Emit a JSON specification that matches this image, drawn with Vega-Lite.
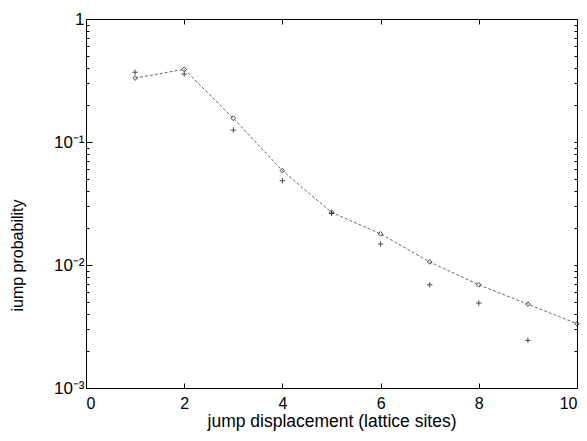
{
  "$schema": "https://vega.github.io/schema/vega-lite/v6.json",
  "autosize": "none",
  "width": 491,
  "height": 369,
  "padding": {"left": 86, "top": 19, "right": 10, "bottom": 53},
  "background": "white",
  "config": {
    "view": {"stroke": "black", "strokeWidth": 1},
    "font": "Liberation Sans",
    "axis": {"domainColor": "black", "tickColor": "black", "labelColor": "black", "titleColor": "black", "grid": false, "labelFont": "Liberation Sans", "titleFont": "Liberation Sans", "titleFontWeight": "normal"}
  },
  "datasets": {
    "model": [
      {"d": 1, "p": 0.331}, {"d": 2, "p": 0.39}, {"d": 3, "p": 0.156}, {"d": 4, "p": 0.0585},
      {"d": 5, "p": 0.0268}, {"d": 6, "p": 0.0179}, {"d": 7, "p": 0.0106}, {"d": 8, "p": 0.0069},
      {"d": 9, "p": 0.0048}, {"d": 10, "p": 0.00333}
    ],
    "sim": [
      {"d": 1, "p": 0.369}, {"d": 2, "p": 0.357}, {"d": 3, "p": 0.125}, {"d": 4, "p": 0.0485},
      {"d": 5, "p": 0.0263}, {"d": 6, "p": 0.0148}, {"d": 7, "p": 0.0069}, {"d": 8, "p": 0.0049},
      {"d": 9, "p": 0.00244}
    ]
  },
  "layer": [
    {
      "data": {"name": "model"},
      "mark": {"type": "line", "color": "#444", "strokeWidth": 0.8, "strokeDash": [3, 2], "clip": false,
        "point": {"shape": "diamond", "filled": false, "stroke": "#333", "fill": null, "strokeWidth": 0.9, "size": 22, "strokeDash": []}},
      "encoding": {
        "x": {"field": "d", "type": "quantitative", "scale": {"domain": [0, 10], "nice": false, "zero": false},
          "axis": {"orient": "bottom", "values": [0, 2, 4, 6, 8, 10], "tickSize": -5, "labelPadding": 12, "labelFontSize": 16, "title": "jump displacement (lattice sites)", "titleFontSize": 17.5, "titlePadding": 1, "domain": false}},
        "y": {"field": "p", "type": "quantitative", "scale": {"type": "log", "domain": [0.001, 1], "nice": false},
          "axis": {"orient": "left",
            "values": [0.001, 0.002, 0.003, 0.004, 0.005, 0.006, 0.007, 0.008, 0.009, 0.01, 0.02, 0.03, 0.04, 0.05, 0.06, 0.07, 0.08, 0.09, 0.1, 0.2, 0.3, 0.4, 0.5, 0.6, 0.7, 0.8, 0.9, 1],
            "tickSize": {"condition": {"test": "abs(log(datum.value)/LN10 - round(log(datum.value)/LN10)) < 0.01", "value": -6}, "value": -3},
            "labelExpr": "datum.value == 1 ? '1' : datum.value == 0.1 ? '10⁻¹' : datum.value == 0.01 ? '10⁻²' : datum.value == 0.001 ? '10⁻³' : ''",
            "labelPadding": 8, "labelFontSize": 17, "title": "iump probability", "titleFontSize": 16,
            "titleX": -69, "titleY": 236, "titleAngle": -90, "titleAlign": "center", "titleBaseline": "middle", "domain": false}}
      }
    },
    {
      "data": {"name": "sim"},
      "mark": {"type": "point", "shape": "M-1,0L1,0M0,-1L0,1", "filled": false, "color": "black", "strokeWidth": 1, "size": 30, "clip": false},
      "encoding": {
        "x": {"field": "d", "type": "quantitative",
          "axis": {"orient": "top", "offset": -5, "values": [2, 4, 6, 8], "tickSize": 5, "labelExpr": "''", "title": null, "domain": false}},
        "y": {"field": "p", "type": "quantitative",
          "axis": {"orient": "right", "offset": -3,
            "values": [0.002, 0.003, 0.004, 0.005, 0.006, 0.007, 0.008, 0.009, 0.01, 0.02, 0.03, 0.04, 0.05, 0.06, 0.07, 0.08, 0.09, 0.1, 0.2, 0.3, 0.4, 0.5, 0.6, 0.7, 0.8, 0.9],
            "tickSize": 3,
            "labelExpr": "''", "title": null, "domain": false}}
      }
    }
  ],
  "resolve": {"axis": {"x": "independent", "y": "independent"}}
}
